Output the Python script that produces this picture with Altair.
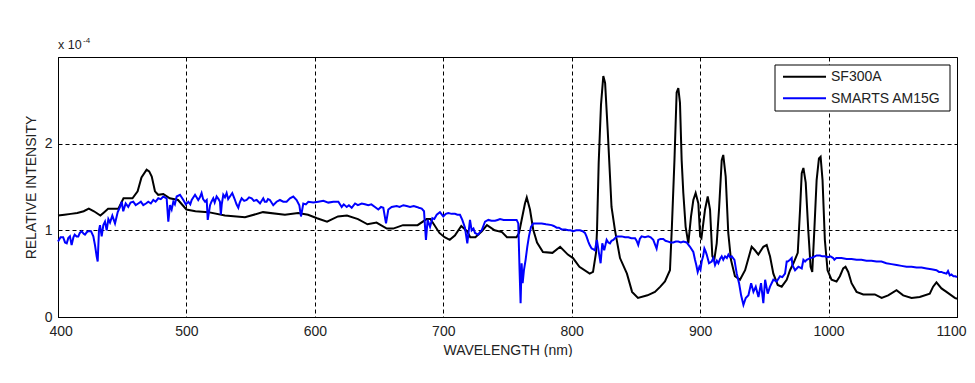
import altair as alt
import pandas as pd

# ---------------- data (values in units of 1e-4) ----------------
sf_wl = [400, 405, 410, 415, 420, 424, 428, 433, 436, 439, 447, 451, 458, 462, 465, 469, 471, 473,
         475.5, 478, 482, 487, 493.5, 500, 507, 517, 530, 545.6, 559.6, 576.7, 587, 594.7, 601.7,
         609.5, 618, 625, 633.6, 641, 648, 656, 661, 668.6, 680, 687, 690, 697, 701, 705, 709, 714,
         718.5, 721, 725, 730, 734, 740, 745.7, 749.6, 757, 759, 761, 763.6, 765, 767.5, 770, 773,
         777.6, 785, 791, 797, 801, 806, 814, 816.6, 818.9, 819.7, 821, 822.8, 824.6, 826, 828, 831,
         833.7, 837.6, 843, 847, 851.6, 859, 864.8, 869, 872.6, 876.5, 878, 880, 881.7, 883, 884.3,
         885.6, 886.9, 888.7, 890.8, 892.9, 894.7, 896.5, 898.6, 900, 901, 903.8, 905.9, 907.7, 909.5,
         911, 912.9, 914.7, 916.8, 918, 919.9, 921.9, 924, 927.1, 931, 935, 940.1, 942.7, 945.3,
         949.2, 951.8, 954.4, 957, 960.4, 963.5, 967.4, 970, 972.6, 976, 977.8, 979.1, 980.4, 982.2,
         984.2, 986, 987.3, 988.9, 990.7, 992.5, 993.8, 995.3, 997.1, 999.2, 1002.3, 1006.2, 1008.8,
         1011.4, 1013.2, 1015.3, 1017.9, 1021.8, 1027, 1036, 1041.3, 1046.4, 1052.9, 1058.1, 1064.6,
         1071, 1078.8, 1081.4, 1084, 1087.9, 1091.8, 1098.3, 1100]
sf_val = [1.17, 1.18, 1.19, 1.20, 1.22, 1.25, 1.22, 1.17, 1.21, 1.25, 1.25, 1.37, 1.37, 1.45, 1.61, 1.70, 1.68, 1.62,
          1.45, 1.41, 1.42, 1.37, 1.35, 1.24, 1.22, 1.21, 1.17, 1.15, 1.21, 1.18, 1.20, 1.18, 1.14,
          1.10, 1.16, 1.17, 1.13, 1.07, 1.09, 1.02, 1.02, 1.06, 1.06, 1.13, 1.13, 0.97, 0.92, 0.89, 0.94, 1.05,
          0.99, 0.92, 0.92, 0.99, 1.06, 1.00, 0.98, 0.92, 0.92, 0.97, 1.12, 1.31, 1.38, 1.24, 1.01, 0.86,
          0.75, 0.74, 0.81, 0.72, 0.68, 0.58, 0.50, 0.52, 0.74, 1.00, 1.78, 2.45, 2.78, 2.70, 2.16, 1.27,
          1.00, 0.68, 0.50, 0.29, 0.22, 0.25, 0.29, 0.35, 0.41, 0.54, 1.04, 1.81, 2.59, 2.64, 2.47,
          1.81, 1.43, 1.04, 0.85, 1.16, 1.35, 1.43, 1.31, 0.93, 0.91, 1.24, 1.39, 1.24, 0.70,
          0.66, 0.85, 1.24, 1.81, 1.87, 1.62, 0.97, 0.66, 0.47, 0.43, 0.54, 0.81, 0.77, 0.72,
          0.81, 0.83, 0.70, 0.50, 0.37, 0.35, 0.43, 0.54, 0.62, 0.74, 1.24, 1.66, 1.72, 1.55,
          1.00, 0.58, 0.52, 1.00, 1.58, 1.83, 1.85, 1.58, 0.89, 0.54, 0.43, 0.41, 0.47,
          0.56, 0.58, 0.52, 0.39, 0.29, 0.26, 0.26, 0.22, 0.25, 0.31, 0.25, 0.22,
          0.23, 0.27, 0.35, 0.40, 0.33, 0.29, 0.22, 0.21]

sm_wl = [400, 402, 404, 405.5, 406.8, 408, 409.3, 410.6, 412, 413, 414.5, 415.8, 417, 418.4, 420, 421,
         422.5, 423.6, 425.7, 427.5, 428.8, 430.1, 430.9, 431.9, 432.7, 434, 435.3, 436.6, 437.9,
         439.2, 440.5, 442.3, 444.4, 446.5, 448.3, 449.6, 450.8, 452.7, 454.7, 456.5, 458.6, 460.5,
         462.5, 464.5, 466.4, 468.5, 470.3, 472.3, 474.2, 476, 478.1, 480, 482, 484.6, 485.9, 487.2,
         488.5, 489.8, 491, 492.4, 495, 497.6, 499.5, 501.5, 503, 504.1, 506.7, 509.2, 510.5, 511.8,
         513, 514.5, 515.8, 516.6, 518.4, 519.5, 520.9, 522, 523.5, 525, 526.1, 526.8, 527.5, 528.7,
         530, 531.3, 532.5, 533.9, 535.7, 537, 537.8, 539, 540.4, 541.5, 543, 545, 546.9, 548.8,
         550.8, 552.5, 554.7, 557.3, 559.8, 561, 562.4, 563.5, 565, 567.6, 570.2, 572.8, 575.4, 578,
         580.6, 583.2, 585.8, 587.9, 589.2, 591, 593, 594.9, 598.8, 602.7, 606.6, 610.5, 614.4, 618.3,
         620.9, 622.5, 624.8, 626.5, 628.7, 631.3, 633.5, 636.5, 639, 641.6, 644, 646.8, 649.4, 651.5,
         653.3, 655.4, 657.2, 659.8, 663.7, 666, 668.9, 671.5, 674.1, 677, 679.3, 681, 683.2, 685,
         685.8, 686.5, 687.8, 689.7, 691.5, 693, 694.9, 697.4, 700, 702, 703.9, 706.5, 709.1, 711,
         713, 714.8, 716.9, 718.7, 720.8, 722.1, 723.5, 724.7, 726, 727.3, 728.5, 729.9, 731.2, 732.5,
         735.1, 737.5, 740.3, 742.3, 744.2, 747, 750.6, 754, 757.1, 758.4, 759.4, 760.2, 761, 761.8,
         762.8, 764.1, 765.4, 766.7, 768.3, 770.1, 773, 776.6, 780, 784.4, 786, 788.3, 790, 792.2,
         795, 797.3, 799, 801.2, 803.5, 806.4, 808.5, 810.3, 811.5, 812.9, 814, 815.5, 817, 818.1,
         819.6, 821.2, 822.5, 823.8, 825.3, 827.2, 828.5, 829.8, 831, 832.4, 835, 838.9, 841.5, 844.1,
         846.5, 849.3, 850.5, 851.8, 853, 854.4, 857, 859.6, 861.5, 863.5, 866.1, 867.4, 869, 871.3,
         873, 875.2, 877, 879.1, 881, 883, 885, 886.9, 889.5, 892.1, 894.7, 896, 897, 898.1, 899.4,
         900.3, 901.2, 902.3, 903.3, 904.2, 905.1, 906.9, 909, 910.3, 911.6, 913, 914.2, 915.5, 916.8,
         918, 919.4, 920.8, 922, 923.3, 924.6, 926.7, 928.5, 930.3, 931.9, 933.7, 935.5, 937.6, 939.7,
         941.5, 943.3, 945.4, 947.4, 949.2, 950.6, 952.6, 954.4, 957, 959.6, 962.2, 964, 966.1, 967.4,
         968.2, 970, 971.3, 971.8, 973.9, 975.2, 976.5, 979.1, 980.4, 981.7, 983, 985.6, 988, 990.7,
         993.4, 995, 997.1, 999.5, 1001.5, 1003.6, 1004.5, 1006, 1010.1, 1014, 1017.9, 1021.8, 1025.6,
         1029.5, 1033.4, 1037.3, 1041.2, 1045, 1049, 1053, 1056.8, 1060.7, 1064.6, 1068.5, 1072.4,
         1076.3, 1080.1, 1084, 1086, 1087.9, 1089.5, 1091.8, 1093, 1094.4, 1095.7, 1097.2, 1098.8, 1100]
sm_val = [0.87, 0.92, 0.92, 0.86, 0.85, 0.91, 0.93, 0.83, 0.92, 0.95, 0.93, 0.93, 0.97, 0.99, 0.96, 0.95,
          0.98, 0.99, 0.99, 0.93, 0.83, 0.70, 0.64, 1.00, 1.06, 0.93, 1.06, 1.10, 1.00,
          1.13, 1.09, 1.17, 1.08, 1.21, 1.27, 1.33, 1.22, 1.31, 1.27, 1.32, 1.33, 1.29,
          1.31, 1.33, 1.29, 1.31, 1.33, 1.31, 1.35, 1.33, 1.37, 1.36, 1.39, 1.37, 1.10, 1.29,
          1.24, 1.33, 1.30, 1.39, 1.41, 1.35, 1.30, 1.33, 1.30, 1.35, 1.41, 1.35, 1.38, 1.43,
          1.36, 1.33, 1.35, 1.12, 1.29, 1.33, 1.37, 1.32, 1.39, 1.36, 1.33, 1.18, 1.30, 1.41,
          1.38, 1.43, 1.36, 1.39, 1.43, 1.38, 1.35, 1.30, 1.26, 1.32, 1.37, 1.34, 1.35, 1.38,
          1.37, 1.34, 1.35, 1.31, 1.37, 1.33, 1.33, 1.36, 1.35, 1.29, 1.33, 1.35, 1.33, 1.33,
          1.37, 1.39, 1.35, 1.29, 1.16, 1.31, 1.30, 1.33, 1.32, 1.33, 1.34, 1.32, 1.33, 1.33,
          1.27, 1.30, 1.27, 1.29, 1.26, 1.31, 1.29, 1.31, 1.30, 1.29, 1.30, 1.27, 1.24, 1.27,
          1.26, 1.08, 1.24, 1.27, 1.28, 1.27, 1.29, 1.28, 1.27, 1.28, 1.27, 1.26, 1.25, 1.22,
          1.04, 0.89, 1.12, 1.04, 1.14, 1.13, 1.18, 1.21, 1.16, 1.19, 1.20, 1.19, 1.19, 1.18,
          1.18, 1.12, 1.03, 0.85, 1.12, 1.00, 1.02, 0.97, 0.96, 0.95, 0.98, 1.00, 1.05, 1.10,
          1.12, 1.11, 1.11, 1.12, 1.13, 1.12, 1.12, 1.12, 1.12, 1.08, 0.54, 0.16, 0.62, 0.39,
          0.54, 0.66, 0.81, 0.93, 1.04, 1.08, 1.08, 1.08, 1.07, 1.06, 1.05, 1.03, 1.03, 1.01,
          1.01, 1.00, 1.00, 0.99, 1.00, 1.00, 0.99, 0.97, 0.93, 0.87, 0.83, 0.79, 0.78, 0.77,
          0.89, 0.74, 0.62, 0.85, 0.77, 0.89, 0.86, 0.85, 0.88, 0.89, 0.93, 0.93, 0.92, 0.92,
          0.91, 0.91, 0.88, 0.83, 0.90, 0.93, 0.92, 0.93, 0.92, 0.89, 0.79, 0.89, 0.90, 0.90,
          0.88, 0.87, 0.86, 0.86, 0.87, 0.87, 0.86, 0.87, 0.86, 0.81, 0.75, 0.66, 0.60, 0.52, 0.58,
          0.55, 0.64, 0.70, 0.79, 0.76, 0.72, 0.62, 0.64, 0.68, 0.60, 0.65, 0.62, 0.67, 0.70,
          0.66, 0.70, 0.68, 0.72, 0.69, 0.70, 0.66, 0.50, 0.39, 0.25, 0.14, 0.22, 0.25, 0.39,
          0.29, 0.35, 0.23, 0.39, 0.16, 0.43, 0.27, 0.35, 0.43, 0.41, 0.47, 0.46, 0.50, 0.64,
          0.64, 0.66, 0.68, 0.60, 0.54, 0.56, 0.58, 0.56, 0.66, 0.64, 0.66, 0.68, 0.69, 0.71,
          0.71, 0.70, 0.70, 0.69, 0.70, 0.68, 0.66, 0.68, 0.68, 0.67, 0.67, 0.66, 0.66,
          0.65, 0.65, 0.64, 0.64, 0.62, 0.61, 0.60, 0.59, 0.58, 0.58, 0.57, 0.57,
          0.56, 0.55, 0.54, 0.52, 0.52, 0.51, 0.50, 0.53, 0.48, 0.49, 0.47, 0.47, 0.46]

series_names = ["SF300A", "SMARTS AM15G"]
series_colors = ["#000000", "#0000ff"]
x_ticks = [400, 500, 600, 700, 800, 900, 1000, 1100]
y_ticks = [0, 1, 2]
x_title = "WAVELENGTH (nm)"
y_title = "RELATIVE INTENSITY"
exp_base = ["x 10"]
exp_power = ["-4"]

FONT = "Liberation Sans"
TXT = "#222222"

df = pd.concat([
    pd.DataFrame({"wl": sf_wl, "val": sf_val, "series": series_names[0]}),
    pd.DataFrame({"wl": sm_wl, "val": sm_val, "series": series_names[1]}),
], ignore_index=True)

lines = alt.Chart(df).mark_line(strokeWidth=2).encode(
    x=alt.X("wl:Q", scale=alt.Scale(domain=[400, 1100], nice=False, zero=False),
            axis=alt.Axis(values=x_ticks, title=x_title, format="d", labelPadding=7,
                          titlePadding=5, labelFlush=True, labelFlushOffset=9,
                          labelOverlap=False)),
    y=alt.Y("val:Q", scale=alt.Scale(domain=[0, 3], nice=False, zero=True),
            axis=alt.Axis(values=y_ticks, title=y_title, format="d", labelPadding=6,
                          titlePadding=6, labelFlush=False, labelOverlap=False)),
    color=alt.Color("series:N",
                    scale=alt.Scale(domain=series_names, range=series_colors),
                    legend=None),
)

# ---- legend box drawn as annotation (pixel positions inside the plot area) ----
leg_box = alt.Chart(pd.DataFrame({"k": [0]})).mark_rect(
    fill="white", stroke="black", strokeWidth=1
).encode(x=alt.value(717), x2=alt.value(892), y=alt.value(8), y2=alt.value(54))

leg_layers = [leg_box]
row_y = [19.7, 41.3]
for name, col, ry in zip(series_names, series_colors, row_y):
    leg_layers.append(
        alt.Chart(pd.DataFrame({"k": [0]})).mark_rule(color=col, strokeWidth=2).encode(
            x=alt.value(725), x2=alt.value(768), y=alt.value(ry))
    )
    leg_layers.append(
        alt.Chart(pd.DataFrame({"t": [name]})).mark_text(
            align="left", baseline="middle", font=FONT, fontSize=14, color=TXT
        ).encode(x=alt.value(773), y=alt.value(ry + 0.5), text="t:N")
    )

base_txt = alt.Chart(pd.DataFrame({"t": exp_base})).mark_text(
    align="left", baseline="alphabetic", font=FONT, fontSize=12.5, color=TXT
).encode(x=alt.value(0), y=alt.value(-8), text="t:N")

pow_txt = alt.Chart(pd.DataFrame({"t": exp_power})).mark_text(
    align="left", baseline="alphabetic", font=FONT, fontSize=8, color=TXT
).encode(x=alt.value(25), y=alt.value(-14), text="t:N")

chart = alt.layer(lines, *leg_layers, base_txt, pow_txt).properties(
    width=899, height=260,
    autosize=alt.AutoSizeParams(type="none"),
    padding={"left": 50, "top": 49, "right": 10, "bottom": 40},
).configure_view(
    stroke="black", strokeWidth=1
).configure_axis(
    grid=True, gridColor="black", gridDash=[4, 3], gridWidth=1, gridOpacity=1,
    domain=True, domainColor="black", domainWidth=1,
    ticks=False, tickSize=0,
    labelFont=FONT, labelFontSize=14, labelColor=TXT,
    titleFont=FONT, titleFontSize=14, titleFontWeight="normal", titleColor=TXT,
)

chart.save("out.html", embed_options={"renderer": "svg", "actions": False})
